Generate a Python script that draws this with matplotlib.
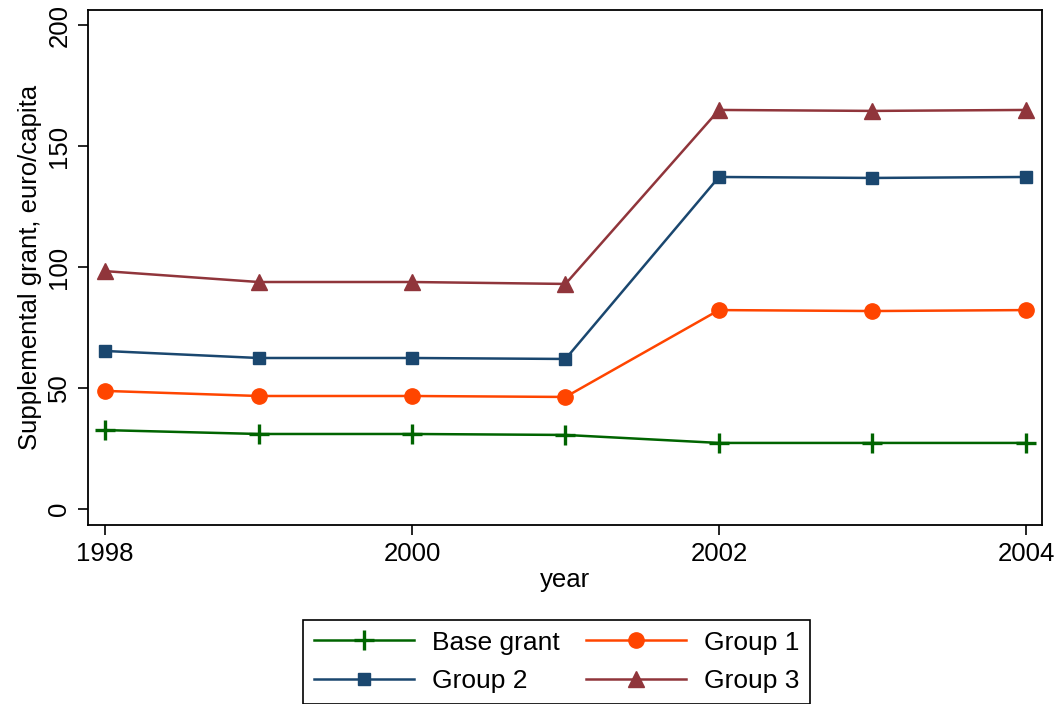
import matplotlib.pyplot as plt

plt.rcParams['font.family'] = ['Liberation Sans', 'DejaVu Sans']

# supplemental grant per capita, by municipality group
years = [1998, 1999, 2000, 2001, 2002, 2003, 2004]
base_grant = [32.6, 31.0, 31.0, 30.6, 27.3, 27.3, 27.3]
group1 = [48.8, 46.7, 46.7, 46.3, 82.2, 81.8, 82.2]
group2 = [65.3, 62.4, 62.4, 62.0, 137.2, 136.8, 137.2]
group3 = [98.3, 93.8, 93.8, 93.0, 164.9, 164.5, 164.9]

fig = plt.figure(figsize=(10.56, 7.04), dpi=100)
ax = fig.add_axes([0.0833, 0.2543, 0.9034, 0.7315])

l0, = ax.plot(years, base_grant, color='#006400', lw=1.8, marker='+', ms=15, mew=2.4, label='Base grant')
l1, = ax.plot(years, group1, color='#ff4500', lw=1.8, marker='o', ms=11, label='Group 1')
l2, = ax.plot(years, group2, color='#1a476f', lw=1.8, marker='s', ms=8.5, label='Group 2')
l3, = ax.plot(years, group3, color='#90353b', lw=1.8, marker='^', ms=12, label='Group 3')

ax.set_xlim(1997.889, 2004.104)
ax.set_ylim(-6.6, 206.2)
ax.set_xticks([1998, 2000, 2002, 2004])
ax.set_yticks([0, 50, 100, 150, 200])
ax.tick_params(axis='both', labelsize=18.5, length=7, width=1.2, direction='out', pad=5)
for lab in ax.get_yticklabels():
    lab.set_rotation(90)
    lab.set_va('center')
for s in ax.spines.values():
    s.set_linewidth(1.3)

ax.set_xlabel('year', fontsize=18.5, labelpad=2)
ax.set_ylabel('Supplemental grant, euro/capita', fontsize=18.5, labelpad=4)

# legend fills by column, so order gives rows: base/group1, group2/group3
leg = fig.legend([l0, l2, l1, l3], ['Base grant', 'Group 2', 'Group 1', 'Group 3'],
                 loc='upper center', bbox_to_anchor=(0.527, 0.12), ncol=2,
                 fontsize=19, handlelength=3.79, handletextpad=0.68,
                 columnspacing=1.0, labelspacing=0.56, fancybox=False,
                 edgecolor='black', borderpad=0.42, borderaxespad=0,
                 framealpha=1)
leg.get_frame().set_linewidth(1.2)

fig.savefig('out.png', dpi=100)
